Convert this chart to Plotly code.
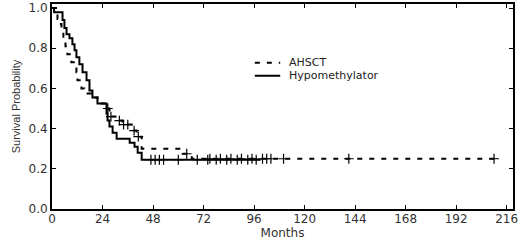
import plotly.graph_objects as go
import numpy as np

# AHSCT (dashed)
ahsct_t = [0, 2.6, 3.5, 4.5, 5.4, 6.4, 7.3, 9.2, 11.6, 12.1, 14.0, 15.4, 18.8, 21.6, 25.9, 27.3, 31.1, 33.5, 37.8, 40.2, 42.6, 62.1, 66.4, 210]
ahsct_s = [1.0, 0.945, 0.92, 0.89, 0.85, 0.81, 0.77, 0.73, 0.68, 0.64, 0.60, 0.575, 0.555, 0.525, 0.50, 0.46, 0.44, 0.42, 0.39, 0.36, 0.30, 0.275, 0.25, 0.25]
ahsct_cens = [26.5, 28, 32, 34, 36, 39, 41, 64, 75, 80, 85, 90, 95, 100, 102, 104, 110, 141, 210]

# Hypomethylator (solid)
hypo_t = [0, 1.0, 5.0, 5.9, 6.9, 8.3, 9.7, 10.7, 11.6, 13.0, 14.5, 16.4, 17.8, 19.2, 21.6, 25.9, 26.4, 27.3, 28.8, 30.7, 36.9, 39.2, 40.7, 42.6, 99]
hypo_s = [1.0, 0.979, 0.94, 0.90, 0.87, 0.85, 0.82, 0.79, 0.755, 0.72, 0.68, 0.64, 0.59, 0.555, 0.525, 0.475, 0.44, 0.41, 0.38, 0.35, 0.33, 0.31, 0.28, 0.245, 0.245]
hypo_cens = [47, 49, 51, 53, 60, 69, 74, 78, 83, 88, 93, 97]

x_ticks = [0, 24, 48, 72, 96, 120, 144, 168, 192, 216]
y_ticks = [0.0, 0.2, 0.4, 0.6, 0.8, 1.0]

series_names = ["AHSCT", "Hypomethylator"]

TICKFONT = dict(family="DejaVu Sans", size=12, color="#333")


def step_at(ts, ss, t):
    idx = np.searchsorted(ts, t, side="right") - 1
    return ss[max(idx, 0)]


DASH = "5px,7px"
fig = go.Figure()
fig.add_trace(go.Scatter(x=ahsct_t, y=ahsct_s, mode="lines", line_shape="hv",
                         line=dict(color="black", width=2, dash=DASH), name=series_names[0]))
fig.add_trace(go.Scatter(x=hypo_t, y=hypo_s, mode="lines", line_shape="hv",
                         line=dict(color="black", width=2), name=series_names[1]))
fig.add_trace(go.Scatter(x=ahsct_cens, y=[step_at(ahsct_t, ahsct_s, t) for t in ahsct_cens],
                         mode="markers", marker=dict(symbol="cross-thin", size=7, line=dict(color="black", width=1.2))))
fig.add_trace(go.Scatter(x=hypo_cens, y=[step_at(hypo_t, hypo_s, t) for t in hypo_cens],
                         mode="markers", marker=dict(symbol="cross-thin", size=7, line=dict(color="black", width=1.2))))

axis_common = dict(showline=True, linecolor="black", linewidth=2, mirror="ticks", ticks="inside",
                   ticklen=4, tickcolor="black", showgrid=False, zeroline=False, automargin=False,
                   tickfont=TICKFONT)
fig.update_xaxes(range=[0, 219], tickvals=x_ticks, ticklabelstandoff=-2,
                 title=dict(text="Months", standoff=3, font=dict(family="DejaVu Sans", size=12, color="#333")),
                 **axis_common)
fig.update_yaxes(range=[0, 1.02], tickvals=y_ticks, tickformat=".1f",
                 title=dict(text="Survival Probability", standoff=6,
                            font=dict(family="Liberation Sans, Arial", size=11, color="#333")), **axis_common)

# manual legend (compact rows like the reference)
leg_rows = [0.714, 0.650]
leg_dash = [DASH, "solid"]
for name, yy, dsh in zip(series_names, leg_rows, leg_dash):
    fig.add_shape(type="line", xref="paper", yref="paper", x0=0.440, x1=0.495, y0=yy, y1=yy,
                  line=dict(color="black", width=2, dash=dsh))
    fig.add_annotation(xref="paper", yref="paper", x=0.512, y=yy, text=name, showarrow=False,
                       xanchor="left", yanchor="middle", borderpad=0,
                       font=dict(family="DejaVu Sans", size=11, color="#222"))

fig.update_layout(width=520, height=240, margin=dict(l=52, r=7, t=4, b=30.5, autoexpand=False),
                  plot_bgcolor="white", paper_bgcolor="white", showlegend=False)

fig.write_html("out.html", config={"displayModeBar": False},
               post_script="document.body.style.margin='0';")
